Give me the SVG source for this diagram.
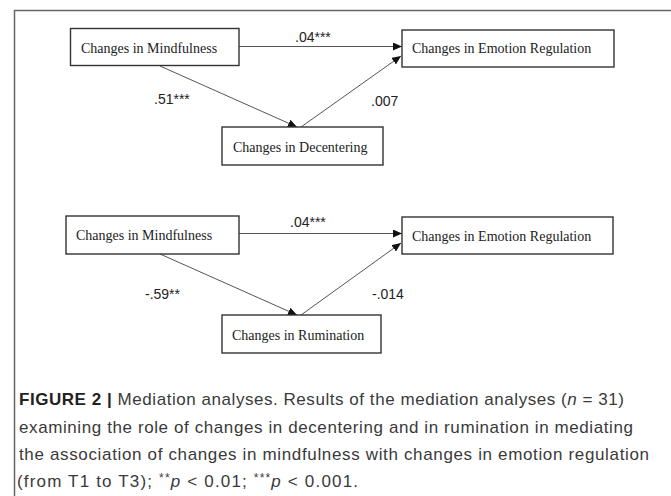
<svg xmlns="http://www.w3.org/2000/svg" width="671" height="496" viewBox="0 0 671 496">
<style>
.box{fill:#fff;stroke:#333;stroke-width:1.4}
.nt{font-family:"Liberation Serif",serif;font-size:14px;fill:#222}
.lbl{font-family:"Liberation Sans",Arial,sans-serif;font-size:14px;fill:#222}
.ln{stroke:#555;stroke-width:1;fill:none;marker-end:url(#ah)}
.cap{font-family:"Liberation Sans",Arial,sans-serif;font-size:17px;fill:#3a3a3a}
</style>
<defs>
<marker id="ah" markerWidth="9" markerHeight="8" refX="9" refY="4" orient="auto" markerUnits="userSpaceOnUse">
<path d="M0,0 L9,4 L0,8 Z" fill="#111"/>
</marker>
</defs>
<path d="M14.5,496 V10.5 H671" fill="none" stroke="#666" stroke-width="1.5"/>
<g id="connectors">
<line class="ln" x1="239" y1="46.5" x2="402" y2="46.5"/>
<line class="ln" x1="160" y1="66" x2="297" y2="127"/>
<line class="ln" x1="301" y1="127" x2="401" y2="56"/>
<line class="ln" x1="239" y1="233.5" x2="402" y2="233.5"/>
<line class="ln" x1="160" y1="254" x2="297" y2="315"/>
<line class="ln" x1="301" y1="315" x2="401" y2="243"/>
</g>
<g id="labels">
<text class="lbl" x="295" y="42">.04***</text>
<text class="lbl" x="154" y="104">.51***</text>
<text class="lbl" x="371" y="106">.007</text>
<text class="lbl" x="290" y="227">.04***</text>
<text class="lbl" x="145" y="299">-.59**</text>
<text class="lbl" x="372" y="299">-.014</text>
</g>
<g id="n-mind1"><rect class="box" x="70.5" y="28.5" width="168.5" height="37"/><text class="nt" x="81" y="53">Changes in Mindfulness</text></g>
<g id="n-emo1"><rect class="box" x="402" y="30" width="212" height="37"/><text class="nt" x="412" y="53">Changes in Emotion Regulation</text></g>
<g id="n-dec"><rect class="box" x="222" y="127" width="161" height="38"/><text class="nt" x="233" y="152">Changes in Decentering</text></g>
<g id="n-mind2"><rect class="box" x="66" y="216" width="173" height="38"/><text class="nt" x="76" y="240">Changes in Mindfulness</text></g>
<g id="n-emo2"><rect class="box" x="402" y="217" width="211" height="37"/><text class="nt" x="412" y="241">Changes in Emotion Regulation</text></g>
<g id="n-rum"><rect class="box" x="222" y="315" width="159" height="38"/><text class="nt" x="232" y="340">Changes in Rumination</text></g>
<g id="caption">
<text class="cap" x="19" y="405" textLength="605" lengthAdjust="spacing"><tspan font-weight="bold" fill="#222">FIGURE 2 |</tspan> Mediation analyses. Results of the mediation analyses (<tspan font-style="italic">n</tspan> = 31)</text>
<text class="cap" x="19" y="433" textLength="614" lengthAdjust="spacing">examining the role of changes in decentering and in rumination in mediating</text>
<text class="cap" x="19" y="460" textLength="630" lengthAdjust="spacing">the association of changes in mindfulness with changes in emotion regulation</text>
<text class="cap" x="17" y="487" textLength="341" lengthAdjust="spacing">(from T1 to T3); <tspan font-size="12" dy="-5">**</tspan><tspan font-style="italic" dy="5">p</tspan> &lt; 0.01; <tspan font-size="12" dy="-5">***</tspan><tspan font-style="italic" dy="5">p</tspan> &lt; 0.001.</text>
</g>
</svg>
